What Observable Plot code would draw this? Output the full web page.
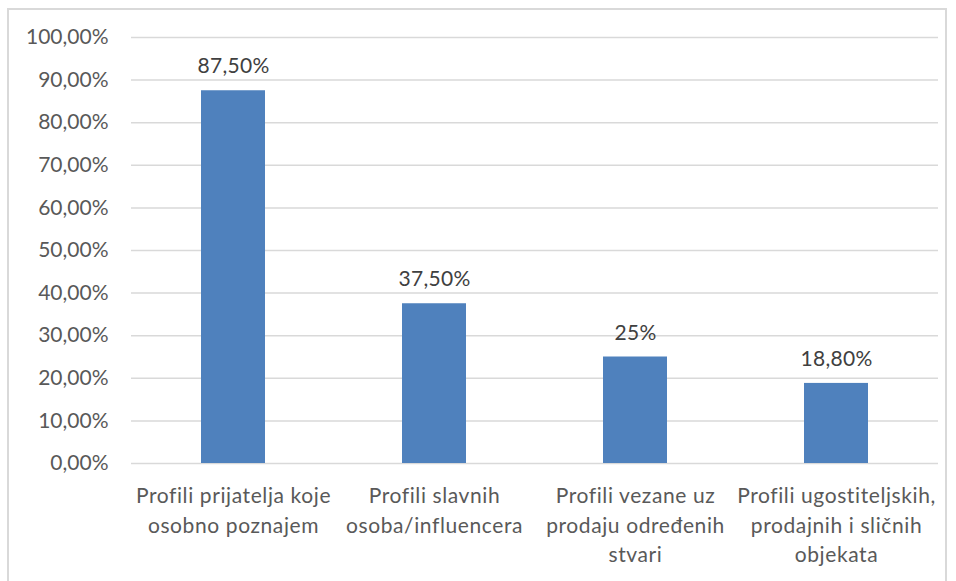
<!DOCTYPE html>
<html>
<head>
<meta charset="utf-8">
<script src="https://cdn.jsdelivr.net/npm/d3@7"></script>
<script src="https://cdn.jsdelivr.net/npm/@observablehq/plot@0.6"></script>
<style>
  html, body { margin: 0; padding: 0; background: #fff; }
  #wrap { position: relative; width: 956px; height: 581px; overflow: hidden; }
  #border { position: absolute; left: 7px; top: 8px; width: 940px; height: 600px; border: 2px solid #d9d9d9; box-sizing: border-box; pointer-events: none; }
  #chart { position: absolute; left: 0; top: 0; }
</style>
</head>
<body>
<div id="wrap"><div id="chart"></div><div id="border"></div></div>
<script>
const categories = [
  "Profili prijatelja koje osobno poznajem",
  "Profili slavnih osoba/influencera",
  "Profili vezane uz prodaju određenih stvari",
  "Profili ugostiteljskih, prodajnih i sličnih objekata"
];
const categoryLabels = [
  "Profili prijatelja koje\nosobno poznajem",
  "Profili slavnih\nosoba/influencera",
  "Profili vezane uz\nprodaju određenih\nstvari",
  "Profili ugostiteljskih,\nprodajnih i sličnih\nobjekata"
];
const values = [0.875, 0.375, 0.25, 0.188];
const valueLabels = ["87,50%", "37,50%", "25%", "18,80%"];
const yTicks = [0, 0.1, 0.2, 0.3, 0.4, 0.5, 0.6, 0.7, 0.8, 0.9, 1.0];

const data = categories.map((c, i) => ({
  category: c, label: categoryLabels[i], value: values[i], valueLabel: valueLabels[i]
}));

const font = "Lato, 'Liberation Sans', sans-serif";
const fs = 21;
const fmt = d => (d * 100).toFixed(2).replace(".", ",") + "%";

const chart = Plot.plot({
  width: 956,
  height: 581,
  marginLeft: 131,
  marginRight: 18,
  marginTop: 37,
  marginBottom: 118,
  style: { fontFamily: font, fontSize: fs + "px", background: "transparent" },
  x: { domain: categories, paddingInner: 0.683, paddingOuter: 0.3415, axis: null },
  y: { domain: [0, 1], ticks: yTicks, axis: null },
  marks: [
    Plot.gridY(yTicks, { stroke: "#d9d9d9", strokeOpacity: 1, strokeWidth: 1.5 }),
    Plot.axisY(yTicks, {
      tickSize: 0, tickPadding: 23, tickFormat: fmt,
      fill: "#595959", fontSize: fs, label: null
    }),
    Plot.barY(data, { x: "category", y: "value", fill: "#4f81bd" }),
    Plot.text(data, {
      x: "category", y: "value", text: "valueLabel",
      dy: -24, fill: "#404040", fontSize: fs
    }),
    Plot.text(data, {
      x: "category", text: "label", frameAnchor: "bottom",
      lineAnchor: "top", dy: 19, lineHeight: 1.4,
      fill: "#595959", fontSize: fs
    })
  ]
});
d3.select(chart).selectAll("g[aria-label='text']").filter((d, i, n) => i === n.length - 1)
  .attr("letter-spacing", "0.6px");
d3.select(chart).selectAll("g[aria-label='text']").filter((d, i, n) => i === 0)
  .attr("letter-spacing", "0.3px");
document.getElementById("chart").appendChild(chart);
</script>
</body>
</html>
